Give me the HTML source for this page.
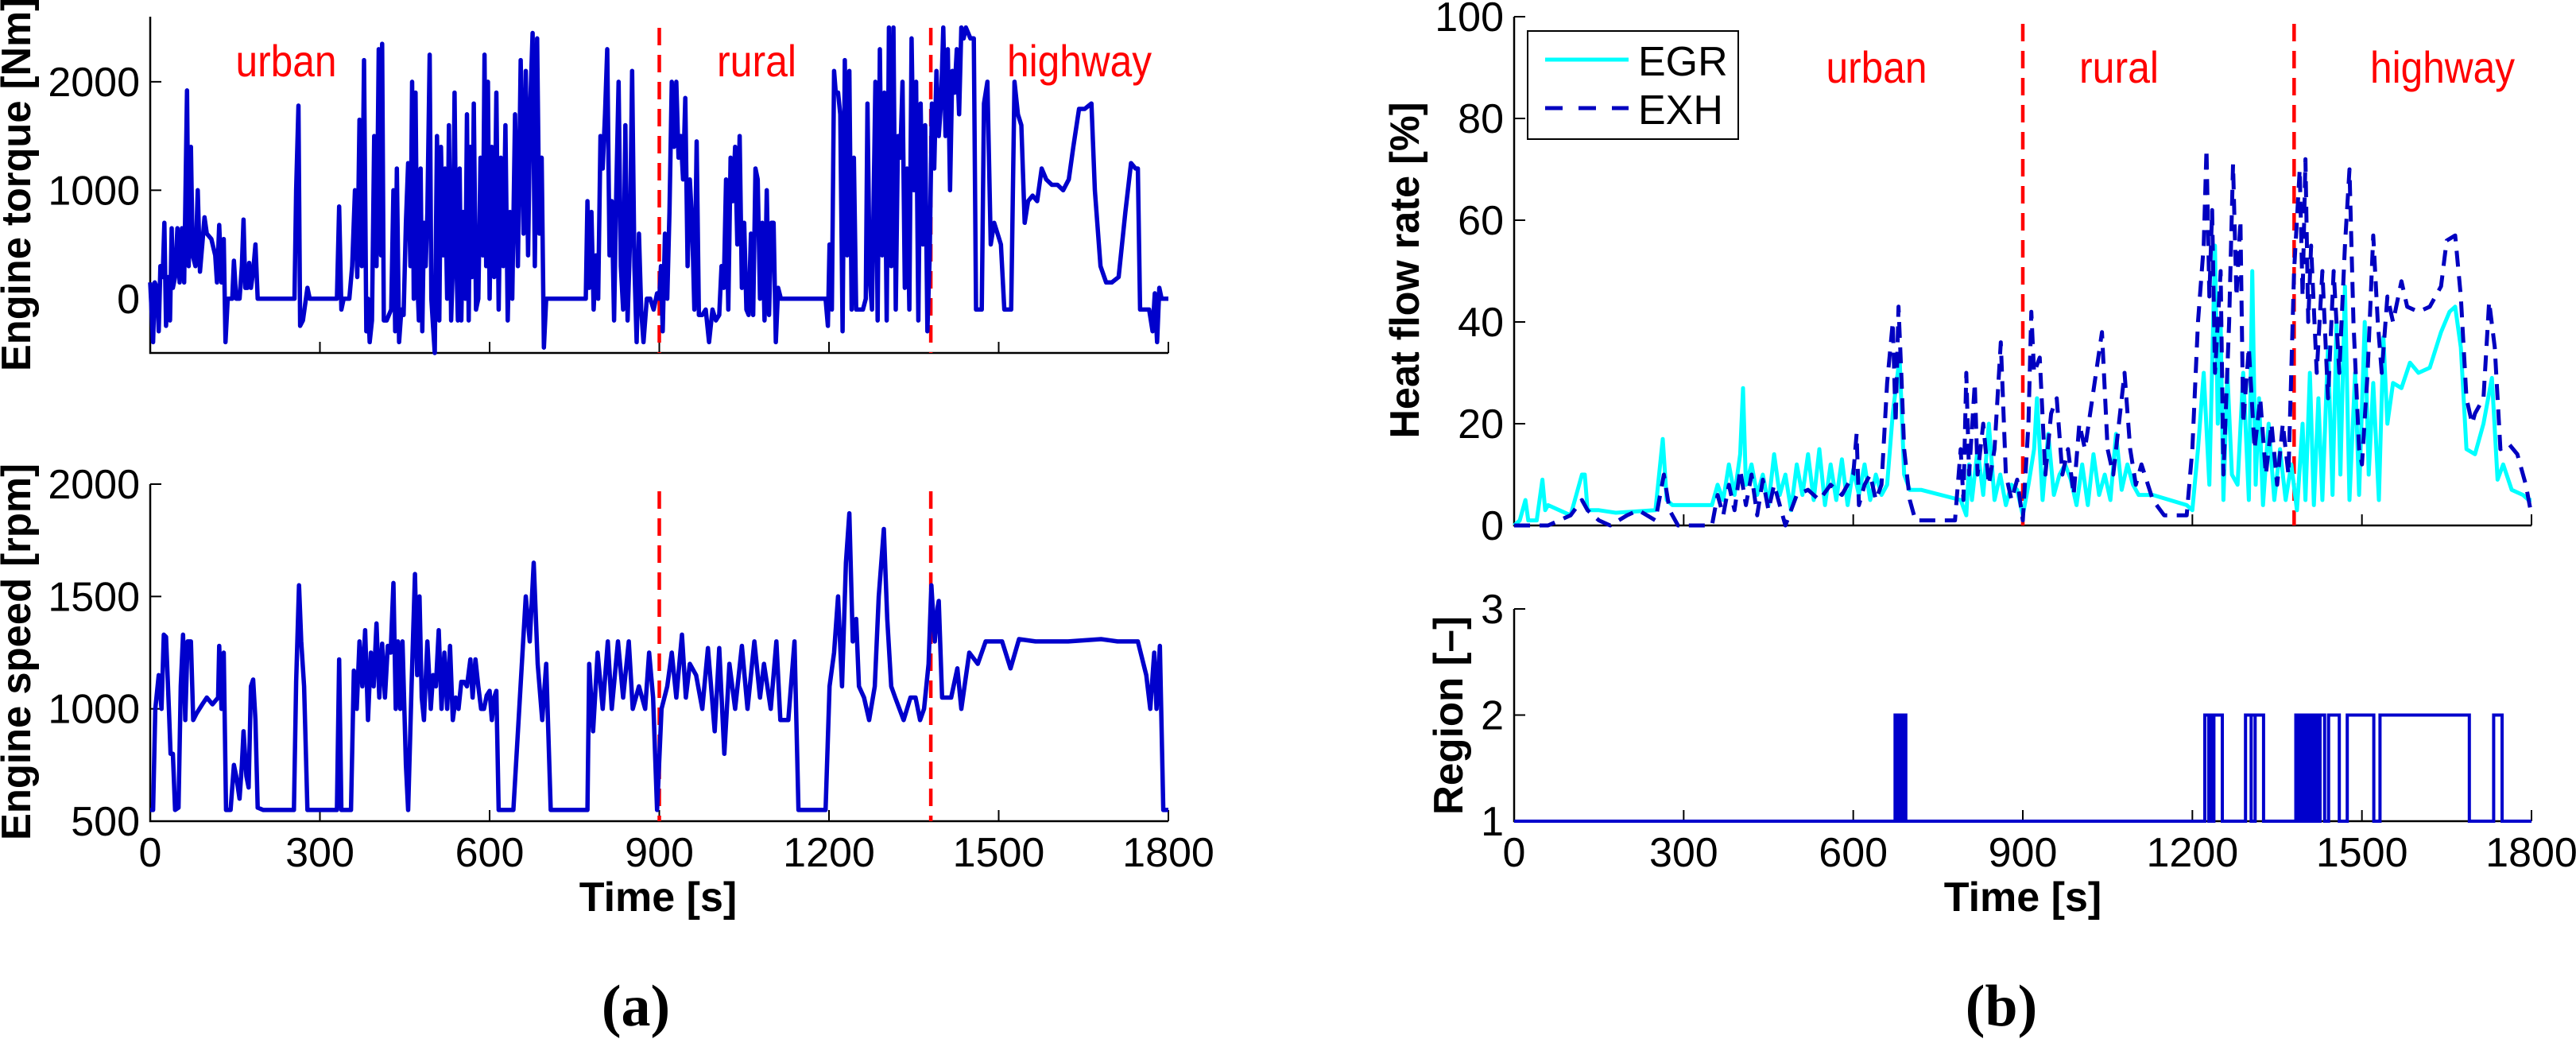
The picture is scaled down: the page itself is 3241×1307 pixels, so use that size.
<!DOCTYPE html>
<html><head><meta charset="utf-8"><style>
html,body{margin:0;padding:0;background:#fff;}
svg{display:block;font-family:"Liberation Sans",Arial,sans-serif;}
</style></head><body>
<svg id="fig" width="3241" height="1307" viewBox="0 0 3241 1307" xmlns="http://www.w3.org/2000/svg">
<rect width="3241" height="1307" fill="#fff"/>
<g id="g"></g>
</svg>
<script>
// ---------- data ----------
const timeTicks=[0,300,600,900,1200,1500,1800];
const torqueTicks=[0,1000,2000];
const speedTicks=[500,1000,1500,2000];
const heatTicks=[0,20,40,60,80,100];
const regionTicks=[1,2,3];
const phaseBounds=[900,1380];
const phaseLabels=["urban","rural","highway"];
const torqueT=[
0,5,8,12,15,18,22,25,28,32,35,38,40,44,48,52,56,60,65,68,
72,75,80,84,88,92,96,100,108,115,118,122,126,130,133,137,145,148,152,158,
162,165,168,172,175,178,182,186,190,255,258,262,265,270,278,282,330,334,338,342,
352,357,362,366,370,374,378,382,385,388,392,396,400,404,408,410,413,418,422,426,
430,433,436,440,444,448,452,456,460,463,466,469,472,475,478,481,484,487,490,494,
497,500,503,507,511,514,518,521,525,528,532,535,538,541,544,547,550,553,557,560,
563,566,569,572,576,580,584,588,591,594,597,600,604,608,612,616,620,624,628,632,
636,640,645,650,655,660,664,668,672,676,680,684,688,692,696,700,708,770,773,776,
780,784,788,792,796,800,804,808,812,816,820,824,828,832,836,840,844,848,852,856,
860,864,868,872,878,884,890,896,900,903,906,910,914,918,922,926,930,934,938,942,
946,950,954,958,962,966,970,976,982,988,994,1000,1006,1010,1014,1018,1022,1026,1030,1034,
1038,1042,1046,1050,1054,1058,1062,1066,1070,1074,1078,1082,1086,1090,1094,1098,1102,1106,1110,1115,
1122,1194,1198,1201,1205,1209,1212,1216,1220,1224,1228,1232,1236,1240,1244,1248,1252,1256,1260,1265,
1268,1272,1276,1282,1286,1290,1294,1298,1302,1306,1310,1314,1318,1322,1326,1330,1334,1338,1342,1346,
1350,1354,1358,1362,1366,1370,1374,1378,1382,1386,1390,1394,1398,1402,1406,1410,1414,1418,1422,1426,
1430,1434,1438,1442,1446,1450,1456,1460,1470,1474,1480,1486,1492,1498,1504,1510,1522,1528,1534,1540,
1546,1552,1560,1568,1576,1584,1594,1604,1614,1624,1632,1642,1652,1664,1670,1680,1690,1700,1712,1724,
1734,1742,1746,1750,1766,1772,1776,1780,1784,1788,1800];
const torqueV=[
150,-400,150,100,-300,300,200,700,-250,200,-200,650,100,200,650,150,650,150,1920,300,
1400,400,300,1000,250,500,750,600,550,400,150,680,150,550,-400,0,0,350,0,0,
300,730,100,100,330,100,250,500,0,0,1000,1780,-250,-200,100,0,0,850,-100,0,
0,300,1000,200,1650,300,2200,-300,0,-400,-200,1500,300,2300,400,2350,-200,-200,-150,-100,
1000,-300,1200,-400,-100,-150,700,1250,300,2000,0,1900,200,-200,1200,-300,700,300,800,2250,
0,-250,-500,1500,-200,1400,400,1200,0,1600,-200,300,1900,400,-200,1200,-200,800,0,1700,
-200,1400,200,1800,-100,0,1300,400,2250,300,2000,0,1400,200,1900,-100,1300,300,1600,-200,
800,0,1700,300,2200,600,2100,400,1800,2450,300,2400,600,1300,-450,0,0,0,900,100,
800,-100,400,0,1500,1200,1700,2300,400,900,-200,1000,2000,300,-100,1600,-200,500,2100,300,
-400,600,-100,-400,0,0,-100,50,0,300,-300,600,0,800,2000,1400,2000,1300,1500,1100,
1850,300,1100,700,-100,1450,-150,-150,-100,-400,-100,-200,-150,300,100,1100,-100,1300,900,1400,
500,1500,100,700,-100,-150,600,-150,1200,1100,0,700,-200,1000,-150,700,700,-400,100,0,
0,0,-250,500,-100,2100,1900,1900,1700,-300,2200,400,2100,-100,1300,-100,-100,-100,-100,0,
1800,200,-100,2000,-200,2300,400,1900,-200,2500,300,2500,-100,1500,1300,2000,100,1200,-100,2400,
1000,2000,-200,1800,500,1600,-300,400,1800,1200,2100,1500,1800,2500,1500,2300,1000,2100,1900,2300,
1700,2500,2400,2500,2450,2400,2400,-100,-100,1800,2000,500,700,600,500,-100,-100,2000,1700,1600,
700,900,950,900,1200,1100,1050,1050,1000,1100,1400,1750,1750,1800,1000,300,150,150,200,800,
1250,1200,1200,-100,-100,-300,50,-400,100,0,0];
const speedT=[0,5,9,15,20,24,28,33,36,40,44,50,54,58,62,66,72,76,82,92,100,110,120,122,126,130,134,142,148,152,158,162,165,170,174,178,182,186,190,200,254,258,263,267,272,278,330,334,338,355,360,365,370,375,380,385,390,395,400,405,410,415,420,425,430,434,438,442,446,452,456,462,468,472,476,480,484,490,496,500,505,510,515,520,525,530,535,540,545,550,555,560,566,570,575,580,585,590,595,600,604,608,612,616,620,642,664,671,678,685,693,700,708,773,776,783,791,800,809,816,827,836,846,853,864,875,882,889,896,904,914,922,930,940,947,954,965,976,986,998,1006,1015,1024,1034,1046,1056,1068,1078,1085,1097,1107,1114,1128,1139,1146,1194,1201,1209,1216,1223,1230,1236,1242,1248,1253,1262,1271,1281,1288,1297,1303,1310,1317,1332,1344,1353,1361,1368,1376,1381,1387,1392,1394,1400,1416,1427,1434,1448,1463,1477,1492,1506,1521,1536,1565,1623,1681,1710,1746,1761,1768,1775,1779,1785,1791,1800];
const speedV=[550,550,1000,1150,1000,1330,1320,1000,800,800,550,560,1100,1330,950,1300,1300,950,980,1020,1050,1020,1050,1280,1000,1250,550,550,750,700,600,750,900,700,650,1100,1130,950,560,550,550,1120,1550,1300,1100,550,550,1220,550,550,1170,1000,1300,1100,1350,950,1250,1100,1380,1050,1290,1050,1280,1250,1560,1000,1300,1000,1300,750,550,1100,1600,1150,1500,1050,950,1300,1000,1150,1100,1350,1000,1250,1000,1280,950,1050,1000,1120,1120,1100,1220,1050,1220,1100,1000,1000,1060,1080,950,1050,1080,550,550,550,1500,1300,1650,1200,950,1200,550,550,1200,900,1250,1000,1300,1000,1300,1050,1300,1000,1100,1000,1250,1050,550,1000,1100,1250,1050,1330,1050,1200,1150,1000,1270,900,1270,800,1200,1000,1280,1000,1300,1050,1200,1000,1300,950,950,1300,550,550,1100,1250,1500,1100,1650,1870,1300,1400,1100,1050,950,1100,1500,1800,1400,1100,1050,950,1050,1050,950,1000,1200,1550,1300,1450,1480,1050,1050,1180,1000,1250,1200,1300,1300,1300,1180,1310,1300,1300,1310,1300,1300,1150,1000,1250,1000,1280,550,550];
const egrT=[0,10,20,25,40,50,55,60,80,100,120,125,130,150,180,250,263,270,280,300,350,360,370,380,390,400,405,410,420,430,440,450,460,470,480,490,500,510,520,530,540,550,560,570,580,590,600,610,620,630,640,650,660,670,682,690,700,720,790,800,805,810,820,830,840,850,860,870,880,890,900,910,920,925,935,945,955,965,975,985,995,1005,1015,1025,1035,1045,1055,1065,1075,1085,1095,1105,1130,1190,1200,1210,1220,1230,1240,1245,1250,1255,1262,1270,1280,1290,1300,1306,1312,1318,1325,1335,1345,1355,1365,1375,1385,1395,1400,1408,1415,1423,1430,1440,1448,1455,1462,1470,1478,1488,1495,1505,1512,1520,1530,1538,1545,1555,1570,1585,1600,1620,1640,1655,1665,1675,1685,1700,1715,1730,1740,1750,1765,1785,1795,1800];
const egrV=[0,1,5,1,1,9,3,4,3,2,10,10,3,3,2.5,3,17,5,4,4,4,8,5,12,6,14,27,8,12,6,10,4,14,6,10,3,12,6,14,5,15,4,12,5,13,4,11,6,12,5,10,6,8,22,33,10,7,7,5,2,12,5,15,6,20,5,10,4,8,7,2,8,15,25,5,18,6,10,12,9,4,12,4,14,6,10,5,18,7,12,8,6,6,4,3,15,30,8,55,20,40,5,30,10,8,30,5,50,8,25,4,20,5,15,5,12,3,20,5,30,4,25,5,35,6,40,10,47,5,30,6,40,10,28,5,37,20,28,27,32,30,31,38,42,43,35,15,14,20,29,9,12,7,6,5,5];
const exhT=[0,30,60,80,100,120,130,150,170,200,220,250,265,275,290,350,360,370,380,390,400,410,420,430,440,450,460,470,480,500,520,540,560,580,600,606,610,620,630,640,650,660,670,675,680,685,690,700,710,720,780,790,795,800,805,815,820,830,840,850,861,870,880,890,900,910,915,920,930,940,950,960,970,980,990,1000,1010,1040,1050,1060,1080,1090,1100,1110,1130,1150,1190,1200,1210,1220,1225,1230,1235,1240,1250,1255,1265,1272,1278,1285,1290,1300,1310,1320,1330,1340,1350,1360,1370,1380,1390,1395,1400,1405,1410,1420,1430,1440,1450,1460,1470,1478,1485,1495,1500,1510,1520,1528,1535,1545,1555,1570,1580,1600,1620,1640,1650,1665,1675,1685,1695,1700,1715,1725,1735,1745,1760,1775,1790,1800];
const exhV=[0,0,0,1,2,5,3,1,0,2,3,1,10,3,0,0,6,2,8,3,11,4,10,2,9,3,8,4,0,6,7,5,8,6,10,18,4,8,10,5,8,28,40,20,43,30,15,5,1,1,1,15,5,30,10,28,10,20,8,15,36,10,5,9,1,20,42,30,33,10,22,25,10,15,6,20,15,38,15,10,30,15,8,12,5,2,2,15,40,55,74,45,62,30,50,10,40,71,45,60,20,35,15,25,10,20,8,20,10,50,70,45,72,40,55,30,50,25,50,30,55,70,40,15,12,30,57,40,30,45,40,48,43,42,43,47,56,57,45,25,20,22,25,44,35,15,16,14,8,2];
const regionOnT=[674,678,681,684,687,690,1222,1231,1238,1294,1304,1383,1388,1392,1396,1400,1404,1408,1414,1420,1426,1441,1474,1532,1733];
const regionOffT=[676,680,683,686,689,693,1229,1236,1253,1311,1326,1386,1390,1394,1398,1402,1406,1411,1417,1423,1434,1460,1521,1690,1748];

// ---------- helpers ----------
const NS="http://www.w3.org/2000/svg";
const G=document.getElementById('g');
function mk(tag,attrs,parent,text){const e=document.createElementNS(NS,tag);for(const k in attrs)e.setAttribute(k,attrs[k]);if(text!==undefined)e.textContent=text;(parent||G).appendChild(e);return e;}
function axisX(x0,x1){return t=>x0+(t/1800)*(x1-x0);}
function axisY(y0,y1,vmin,vmax){return v=>y0-(v-vmin)/(vmax-vmin)*(y0-y1);}
function pathFrom(ts,vs,sx,sy){let d='';const n=Math.min(ts.length,vs.length);for(let i=0;i<n;i++){d+=(i?'L':'M')+sx(ts[i]).toFixed(1)+' '+sy(vs[i]).toFixed(1);}return d;}

function drawAxes(name,x0,x1,yBot,yTop,sy,yticks,xLabels,tickFs){
  const ax=mk('g',{});
  
  
  mk('path',{d:`M${x0} ${yTop}V${yBot}H${x1}`,stroke:'#000','stroke-width':2.5,fill:'none'},ax);
  const sx=axisX(x0,x1);
  timeTicks.forEach(t=>{
    const x=sx(t);
    mk('line',{x1:x,x2:x,y1:yBot,y2:yBot-14,stroke:'#000','stroke-width':2},ax);
    if(xLabels){
      const tl=mk('text',{x:x,y:yBot+57,'font-size':tickFs,'text-anchor':'middle',fill:'#000'},ax,String(t));
      
      
    }
  });
  yticks.forEach(v=>{
    const y=sy(v);
    mk('line',{x1:x0,x2:x0+14,y1:y,y2:y,stroke:'#000','stroke-width':2},ax);
    const tl=mk('text',{x:x0-13,y:y+18,'font-size':tickFs,'text-anchor':'end',fill:'#000'},ax,String(v));
    
    
  });
  return sx;
}
function yTitle(x,cy,len,txt,name){
  const t=mk('text',{x:0,y:0,'font-size':52,'font-weight':'bold','text-anchor':'middle',fill:'#000',transform:`translate(${x},${cy}) rotate(-90)`,textLength:len,lengthAdjust:'spacingAndGlyphs'},G,txt);
  
  
}
function phaseLines(sx,yTop,yBot,name){
  phaseBounds.forEach(b=>{
    const l=mk('line',{x1:sx(b),x2:sx(b),y1:yTop,y2:yBot,stroke:'#ff0000','stroke-width':4.5,'stroke-dasharray':'22 12'});
    
    
  });
}
function phaseText(xs,y,lens,name){
  phaseLabels.forEach((s,i)=>{
    const t=mk('text',{x:xs[i],y:y,'font-size':56,'text-anchor':'middle',fill:'#ff0000',textLength:lens[i],lengthAdjust:'spacingAndGlyphs'},G,s);
    
    
  });
}

// ---------- panel (a) top: torque ----------
const syT=axisY(444,21,-500,2600);
const sxT=drawAxes('torque',189,1470,444,21,syT,torqueTicks,false,52);
phaseLines(sxT,35,444,'torque');
phaseText([360,952,1358],96,[127,100,182],'torque');
const pT=mk('path',{d:pathFrom(torqueT,torqueV,sxT,syT),stroke:'#0000cc','stroke-width':5.5,fill:'none','stroke-linejoin':'round'});


yTitle(38,232,470,'Engine torque [Nm]','torque-y-axis-title');

// ---------- panel (a) bottom: speed ----------
const syS=axisY(1033,609,500,2000);
const sxS=drawAxes('speed',189,1470,1033,609,syS,speedTicks,true,52);
phaseLines(sxS,618,1033,'speed');
const pS=mk('path',{d:pathFrom(speedT,speedV,sxS,syS),stroke:'#0000cc','stroke-width':5.5,fill:'none','stroke-linejoin':'round'});


yTitle(38,820,474,'Engine speed [rpm]','speed-y-axis-title');
let t1=mk('text',{x:828,y:1146,'font-size':52,'font-weight':'bold','text-anchor':'middle'},G,'Time [s]');


let c1=mk('text',{x:800,y:1290,'font-size':74,'font-weight':'bold','text-anchor':'middle','font-family':'"Liberation Serif",serif'},G,'(a)');



// ---------- panel (b) top: heat flow ----------
const syH=axisY(661,21,0,100);
const sxH=drawAxes('heat',1905,3185,661,21,syH,heatTicks,false,52);
phaseLines(sxH,30,661,'heat');
phaseText([2361,2666,3073],104,[127,100,182],'heat');
const pE=mk('path',{d:pathFrom(egrT,egrV,sxH,syH),stroke:'#00ffff','stroke-width':5,fill:'none','stroke-linejoin':'round'});


const pX=mk('path',{d:pathFrom(exhT,exhV,sxH,syH),stroke:'#0000c0','stroke-width':5,fill:'none','stroke-dasharray':'20 12','stroke-linejoin':'round'});


yTitle(1785,340,423,'Heat flow rate [%]','heat-y-axis-title');
// legend
const lg=mk('g',{});


mk('rect',{x:1922,y:39,width:265,height:136,fill:'#fff',stroke:'#000','stroke-width':2},lg);
mk('line',{x1:1944,x2:2049,y1:75,y2:75,stroke:'#00ffff','stroke-width':5},lg);
mk('line',{x1:1944,x2:2049,y1:136,y2:136,stroke:'#0000c0','stroke-width':5,'stroke-dasharray':'22 20'},lg);
let le1=mk('text',{x:2061,y:95,'font-size':52},lg,'EGR');


let le2=mk('text',{x:2061,y:156,'font-size':52},lg,'EXH');



// ---------- panel (b) bottom: region ----------
const syR=axisY(1033,766,1,3);
const sxR=drawAxes('region',1905,3185,1033,766,syR,regionTicks,true,52);
let rd='M'+sxR(0)+' '+syR(1);
for(let i=0;i<regionOnT.length;i++){
  rd+='H'+sxR(regionOnT[i]).toFixed(1)+'V'+syR(2).toFixed(1)+'H'+sxR(regionOffT[i]).toFixed(1)+'V'+syR(1).toFixed(1);
}
rd+='H'+sxR(1800);
const pR=mk('path',{d:rd,stroke:'#0000cc','stroke-width':4,fill:'none'});


yTitle(1840,900,250,'Region [\u2013]','region-y-axis-title');
let t2=mk('text',{x:2545,y:1146,'font-size':52,'font-weight':'bold','text-anchor':'middle'},G,'Time [s]');


let c2=mk('text',{x:2518,y:1290,'font-size':74,'font-weight':'bold','text-anchor':'middle','font-family':'"Liberation Serif",serif'},G,'(b)');


</script>
</body></html>
